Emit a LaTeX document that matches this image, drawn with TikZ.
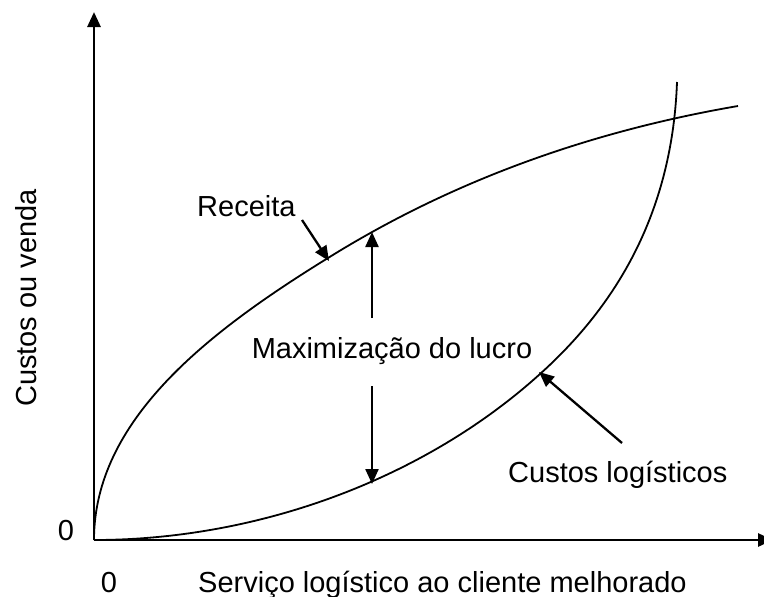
\documentclass[tikz,border=0pt]{standalone}
\usepackage{fontspec}
\setmainfont{Liberation Sans}
\usetikzlibrary{arrows.meta}
\tikzset{
  lbl/.style={font=\fontsize{29}{34}\selectfont, inner sep=0pt},
  curva/.style={line width=1.8pt},
  eixo/.style={line width=2.8pt, ->},
  seta/.style={line width=2.3pt, ->},
}
\begin{document}
\begin{tikzpicture}[x=1pt, y=-1pt, >={Triangle[length=15pt,width=13pt]}]
 \useasboundingbox (0,0) rectangle (764,597);
 \coordinate (O) at (94,540);
 \coordinate (ytop) at (94,12);
 \coordinate (xend) at (773,540);
 \draw[eixo](O)--(ytop);
 \draw[eixo](O)--(xend);
 \draw[curva](O).. controls (94,420) and (208,332) ..(328,258)
   .. controls (458,177) and (598,130) ..(738,106);
 \draw[curva](O).. controls (260,540) and (425,478) ..(540,374)
   .. controls (610,311) and (672,220) ..(677,82);
 \node[lbl, anchor=base] (zy) at (66,540) {0};
 \node[lbl, anchor=base] (zx) at (109,592) {0};
 \node[lbl, anchor=base, rotate=90] (ylab) at (36,298) {Custos ou venda};
 \node[lbl, anchor=base west] (xlab) at (198,592) {Serviço logístico ao cliente melhorado};
 \node[lbl, anchor=base west] (rec) at (197,216) {Receita};
 \node[lbl, anchor=base] (lucro) at (392,358) {Maximização do lucro};
 \node[lbl, anchor=base west] (cust) at (508,482) {Custos logísticos};
 \coordinate (recA) at (302,220);
 \coordinate (recB) at (329,261);
 \coordinate (upA) at (372,318);
 \coordinate (upB) at (372,232);
 \coordinate (dnA) at (372,386);
 \coordinate (dnB) at (372,484);
 \coordinate (custA) at (622,443);
 \coordinate (custB) at (539,372);
 \draw[seta](recA)--(recB);
 \draw[seta](upA)--(upB);
 \draw[seta](dnA)--(dnB);
 \draw[seta](custA)--(custB);
\end{tikzpicture}
\end{document}
